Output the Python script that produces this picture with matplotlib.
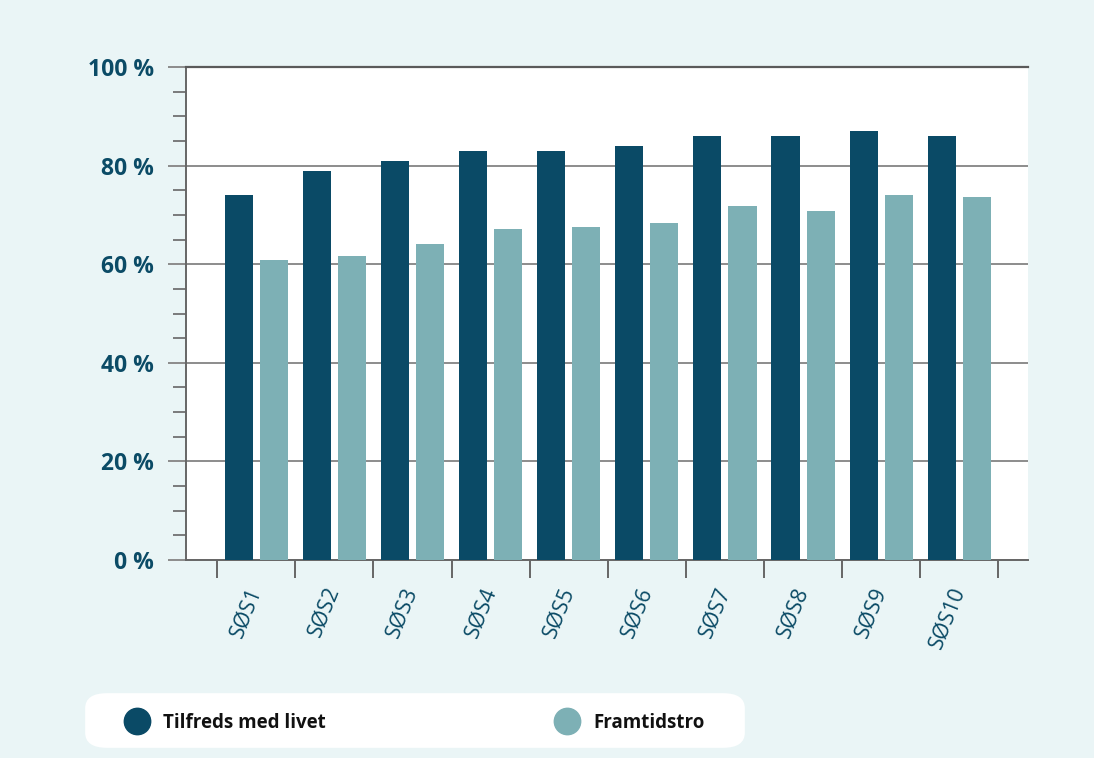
import numpy as np
import matplotlib.pyplot as plt
from matplotlib.lines import Line2D
from matplotlib.patches import FancyBboxPatch
from matplotlib.ticker import MultipleLocator, FuncFormatter

# -------------------------------------------------
# DATA
# -------------------------------------------------
categories = ['SØS1', 'SØS2', 'SØS3', 'SØS4', 'SØS5',
              'SØS6', 'SØS7', 'SØS8', 'SØS9', 'SØS10']
tilfreds = [74, 79, 81, 83, 83, 84, 86, 86, 87, 86]
framtidstro = [60.9, 61.7, 64.1, 67.2, 67.6, 68.4, 71.9, 70.8, 74.1, 73.7]
series_names = ['Tilfreds med livet', 'Framtidstro']

# -------------------------------------------------
# STYLE
# -------------------------------------------------
dark = '#0a4a66'
light = '#7db0b5'
bg = '#eaf5f6'
text_col = '#0b4b66'
grid_col = '#8c8c8c'
spine_col = '#666666'

plt.rcParams['font.family'] = ['Open Sans', 'DejaVu Sans']
plt.rcParams['font.stretch'] = 'normal'

fig = plt.figure(figsize=(10.94, 7.58), dpi=100, facecolor=bg)
ax = fig.add_axes([0.170, 0.2612, 0.7697, 0.6504])
ax.set_facecolor('white')

x = np.arange(len(categories))
w = 0.36
ax.bar(x - 0.225, tilfreds, w, color=dark, zorder=3)
ax.bar(x + 0.225, framtidstro, w, color=light, zorder=3)

ax.set_ylim(0, 100)
ax.set_xlim(-0.9, 9.88)

# y axis
ax.yaxis.set_major_locator(MultipleLocator(20))
ax.yaxis.set_minor_locator(MultipleLocator(5))
ax.yaxis.set_major_formatter(FuncFormatter(lambda v, p: f'{int(v)} %'))
ax.tick_params(axis='y', which='major', length=13, width=1.4, color=grid_col,
               labelsize=16.5, labelcolor=text_col, pad=10)
ax.tick_params(axis='y', which='minor', length=9.4, width=1.2, color=spine_col)
for lab in ax.get_yticklabels():
    lab.set_fontweight('bold')
ax.grid(axis='y', which='major', color=grid_col, linewidth=1.4, zorder=1)

# x axis: ticks at category boundaries, labels at centres
ax.set_xticks(np.arange(-0.5, len(categories), 1.0))
ax.set_xticklabels([])
ax.set_xticks(x, minor=True)
ax.set_xticklabels(categories, minor=True, rotation=68, ha='right',
                   rotation_mode='anchor', fontsize=15.5, color=text_col,
                   va='center')
ax.tick_params(axis='x', which='major', length=13, width=1.4, color=spine_col)
ax.tick_params(axis='x', which='minor', length=0, pad=20)

ax.spines['right'].set_visible(False)
ax.spines['top'].set_color('#5a5a5a')
ax.spines['top'].set_linewidth(1.6)
ax.spines['left'].set_color(spine_col)
ax.spines['left'].set_linewidth(1.4)
ax.spines['bottom'].set_color(spine_col)
ax.spines['bottom'].set_linewidth(1.4)

# -------------------------------------------------
# LEGEND
# -------------------------------------------------
box = FancyBboxPatch((95 / 1094, 1 - 741 / 758), 640 / 1094, 41 / 758,
                     boxstyle='round,pad=0.009,rounding_size=0.02',
                     transform=fig.transFigure, facecolor='white',
                     edgecolor='none', zorder=0)
fig.patches.append(box)

handles = [Line2D([], [], linestyle='none', marker='o', markersize=19,
                  markerfacecolor=c, markeredgecolor=c) for c in (dark, light)]
leg = fig.legend(handles, series_names, ncol=2, loc='center left',
                 bbox_to_anchor=(125.5 / 1094, 1 - 723 / 758),
                 frameon=False, borderpad=0, borderaxespad=0,
                 handlelength=1.2, handletextpad=0.79, columnspacing=12.3,
                 prop={'family': 'Open Sans', 'weight': 'bold', 'size': 13.5})
for t in leg.get_texts():
    t.set_color('#111111')

fig.savefig('out.png', dpi=100, facecolor=bg)
